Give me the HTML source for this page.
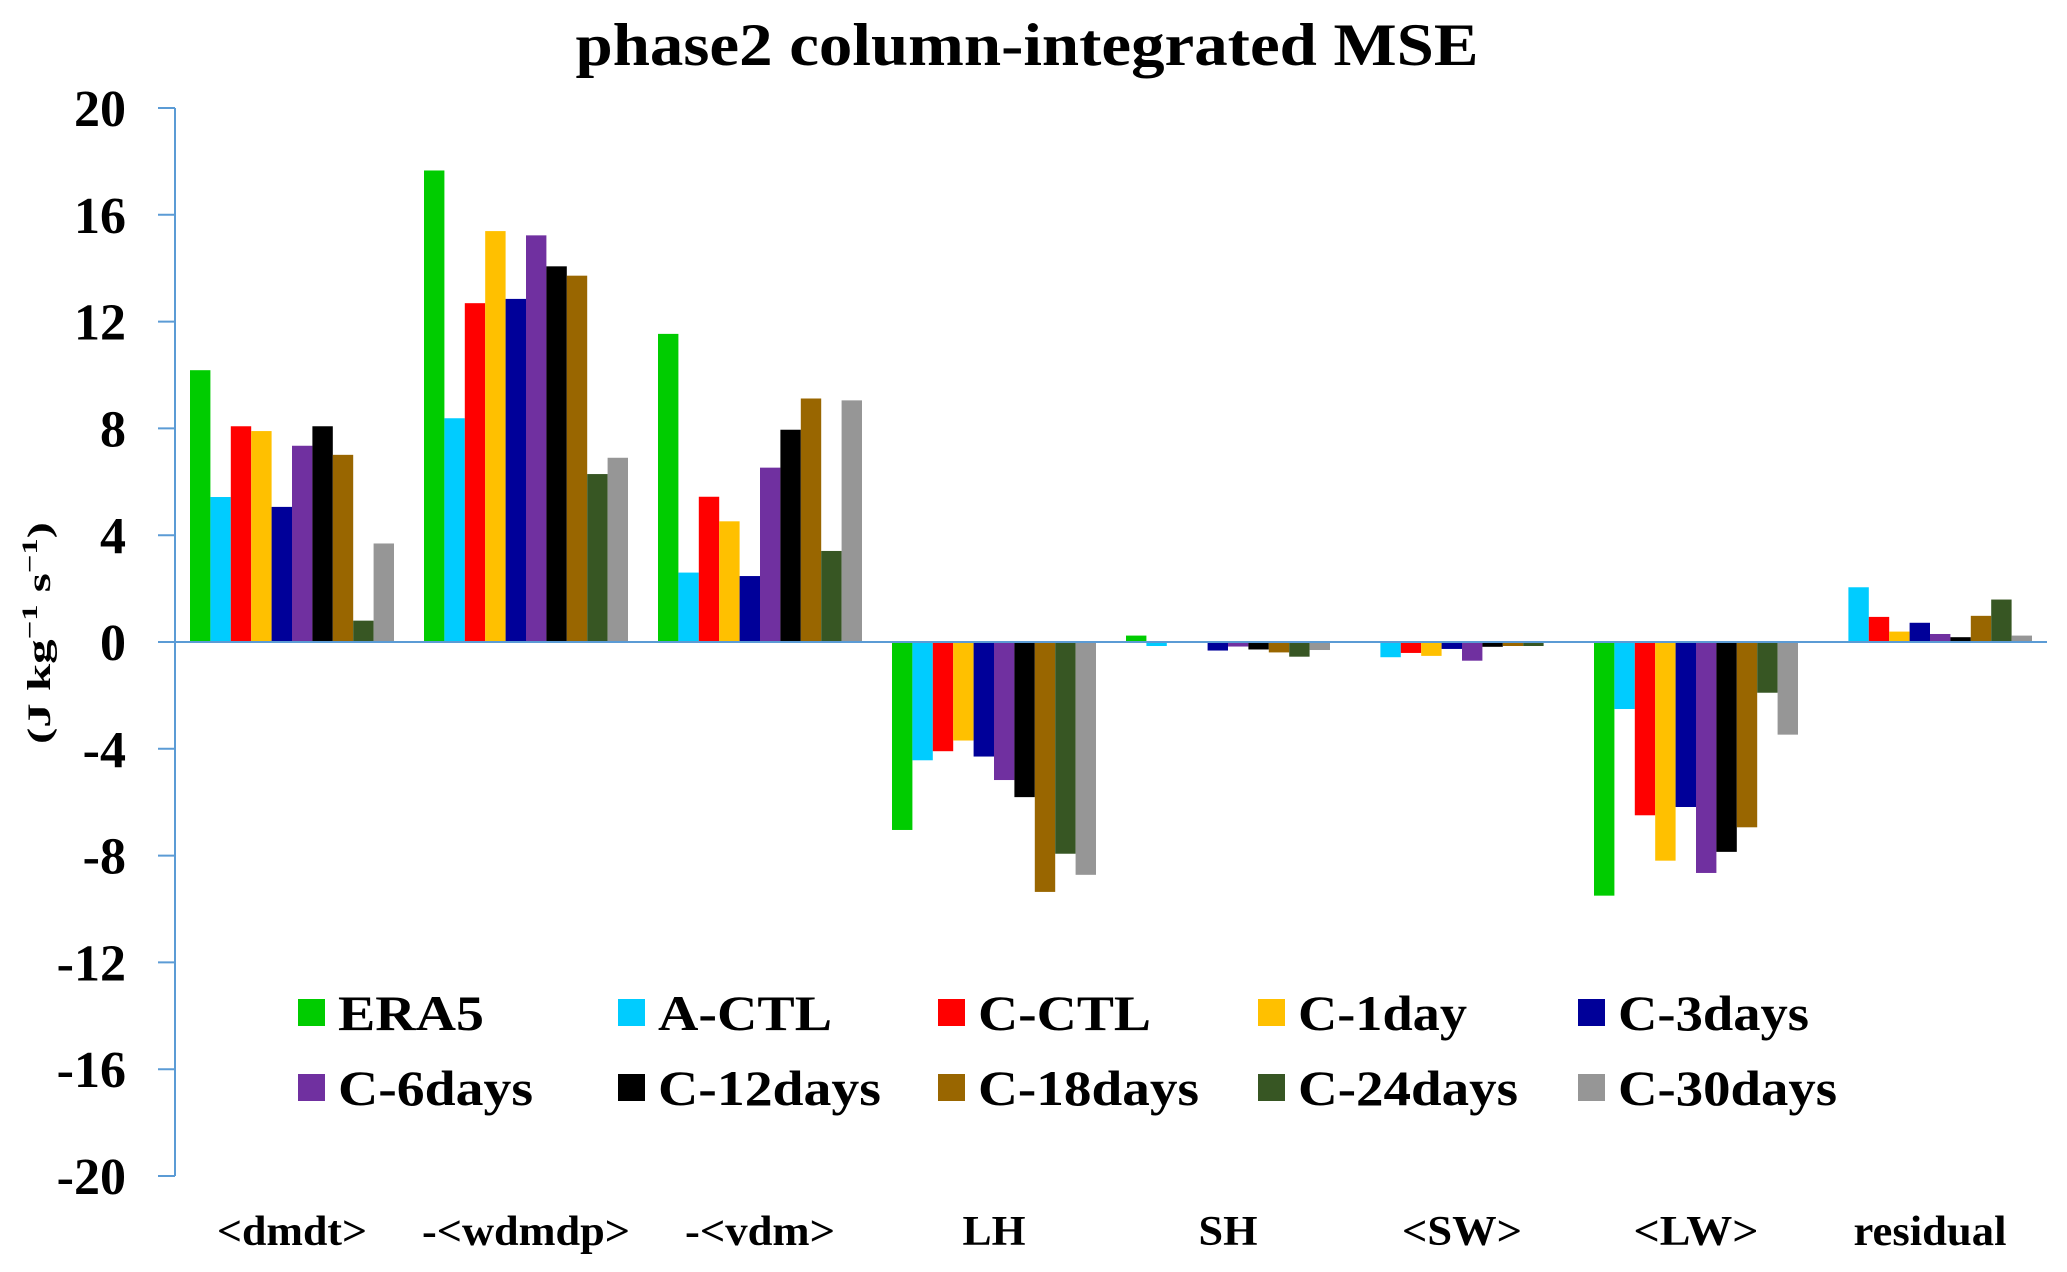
<!DOCTYPE html>
<html><head><meta charset="utf-8"><style>
html,body{margin:0;padding:0;background:#fff;}
svg{display:block;font-family:"Liberation Serif","Times New Roman",serif;font-weight:bold;}
</style></head><body>
<svg id="chart" width="2067" height="1272" viewBox="0 0 2067 1272" xmlns="http://www.w3.org/2000/svg">
<text x="1027" y="65" font-size="60" text-anchor="middle" textLength="903" lengthAdjust="spacingAndGlyphs">phase2 column-integrated MSE</text>
<text transform="translate(50,633) rotate(-90)" font-size="33" text-anchor="middle" textLength="222" lengthAdjust="spacingAndGlyphs">(J kg<tspan font-size="22" dy="-13">−1</tspan><tspan dy="13"> s</tspan><tspan font-size="22" dy="-13">−1</tspan><tspan dy="13">)</tspan></text>
<g id="plot"></g>
</svg>
<script>
const categories = ["<dmdt>","-<wdmdp>","-<vdm>","LH","SH","<SW>","<LW>","residual"];
const seriesNames = ["ERA5","A-CTL","C-CTL","C-1day","C-3days","C-6days","C-12days","C-18days","C-24days","C-30days"];
const seriesColors = ["#00cc00","#00ccff","#ff0000","#ffc000","#000099","#7030a0","#000000","#996600","#375623","#969696"];
const sERA5   = [10.18,17.66,11.54,-7.04, 0.24, 0,    -9.5,  0];
const sACTL   = [5.43, 8.38, 2.6,  -4.43,-0.15,-0.57,-2.51, 2.05];
const sCCTL   = [8.08, 12.69,5.44, -4.09, 0,   -0.41,-6.49, 0.94];
const sC1     = [7.9,  15.39,4.52, -3.69, 0,   -0.52,-8.19, 0.39];
const sC3     = [5.06, 12.85,2.47, -4.29,-0.32,-0.26,-6.18, 0.72];
const sC6     = [7.35, 15.23,6.53, -5.17,-0.17,-0.7, -8.65, 0.3];
const sC12    = [8.08, 14.07,7.95, -5.81,-0.28,-0.18,-7.86, 0.18];
const sC18    = [7.01, 13.72,9.12, -9.36,-0.39,-0.15,-6.94, 0.98];
const sC24    = [0.8,  6.29, 3.41, -7.93,-0.55,-0.15,-1.9,  1.59];
const sC30    = [3.69, 6.9,  9.05, -8.72,-0.3,  0,   -3.47, 0.24];
const yTicks = [20,16,12,8,4,0,-4,-8,-12,-16,-20];
const allSeries = [sERA5,sACTL,sCCTL,sC1,sC3,sC6,sC12,sC18,sC24,sC30];
const catWidths = [150,208,150,63,59,120,125,153];
const legendWidths = [146,174,173,169,191,195,223,221,220,219];

const NS="http://www.w3.org/2000/svg";
const g=document.getElementById('plot');
const X0=175, GW=234, Y0=642, PPU=26.7, BW=20.4, PAD=15;
const yS=v=>Y0-v*PPU;
function mk(t,a){const e=document.createElementNS(NS,t);for(const k in a)e.setAttribute(k,a[k]);g.appendChild(e);return e;}
allSeries.forEach((s,si)=>{
  s.forEach((v,ci)=>{
    const x=X0+ci*GW+PAD+si*BW;
    const y=Math.min(yS(v),yS(0)), h=Math.abs(yS(v)-yS(0));
    const r=mk('rect',{x:x,y:y,width:BW,height:h,fill:seriesColors[si]});
    
    
  });
});
const ax=mk('line',{x1:X0,y1:yS(20),x2:X0,y2:yS(-20),stroke:'#5b9bd5','stroke-width':2});


const zl=mk('line',{x1:X0,y1:yS(0),x2:X0+8*GW,y2:yS(0),stroke:'#5b9bd5','stroke-width':2});


yTicks.forEach(t=>{
  const tk=mk('line',{x1:X0-17,y1:yS(t),x2:X0,y2:yS(t),stroke:'#5b9bd5','stroke-width':2});
  
  
  const tx=mk('text',{x:126,y:yS(t)+18,'font-size':52,'text-anchor':'end'});
  tx.textContent=t;
  
  
});
categories.forEach((c,ci)=>{
  const tx=mk('text',{x:X0+ci*GW+GW/2,y:1245,'font-size':42,'text-anchor':'middle',textLength:catWidths[ci],lengthAdjust:'spacingAndGlyphs'});
  tx.textContent=c;
  
  
});
seriesNames.forEach((n,i)=>{
  const col=i%5,row=Math.floor(i/5);
  const sx=298+col*320, cy=row?1088:1013;
  const sq=mk('rect',{x:sx,y:cy-14,width:27,height:27,fill:seriesColors[i]});
  
  
  const tx=mk('text',{x:sx+40,y:cy+17,'font-size':50,textLength:legendWidths[i],lengthAdjust:'spacingAndGlyphs'});
  tx.textContent=n;
  
  
});
</script>
</body></html>
